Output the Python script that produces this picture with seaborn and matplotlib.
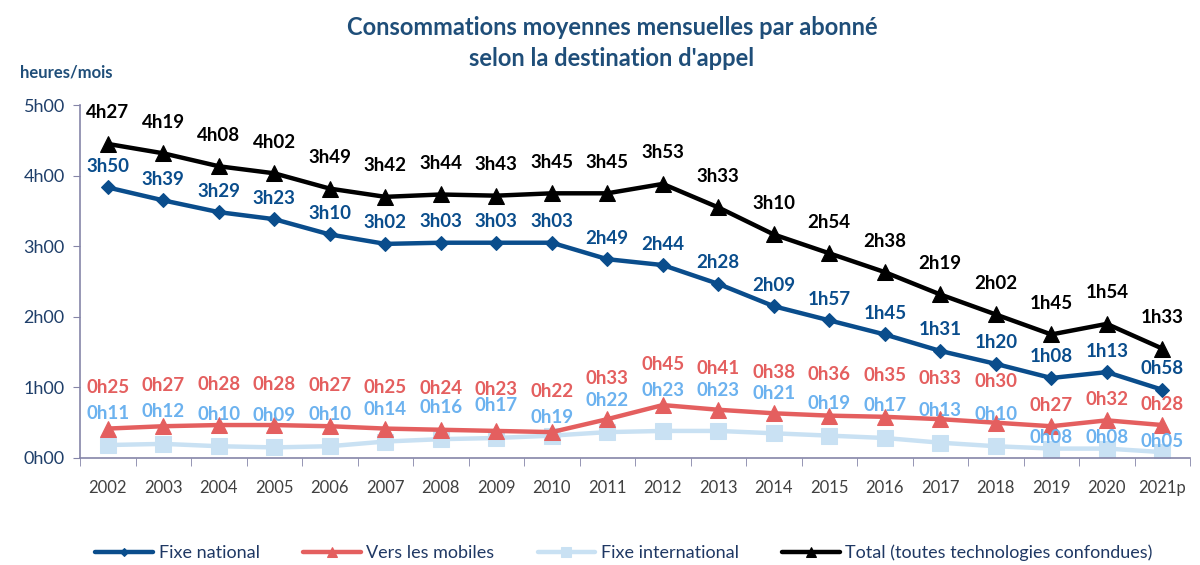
import matplotlib
matplotlib.use("Agg")
import matplotlib.pyplot as plt
import seaborn as sns
import pandas as pd

# data in minutes per month
years = ['2002', '2003', '2004', '2005', '2006', '2007', '2008', '2009', '2010', '2011',
         '2012', '2013', '2014', '2015', '2016', '2017', '2018', '2019', '2020', '2021p']
fixe_national = [230, 219, 209, 203, 190, 182, 183, 183, 183, 169,
                 164, 148, 129, 117, 105, 91, 80, 68, 73, 58]
vers_mobiles = [25, 27, 28, 28, 27, 25, 24, 23, 22, 33,
                45, 41, 38, 36, 35, 33, 30, 27, 32, 28]
fixe_international = [11, 12, 10, 9, 10, 14, 16, 17, 19, 22,
                      23, 23, 21, 19, 17, 13, 10, 8, 8, 5]
total = [267, 259, 248, 242, 229, 222, 224, 223, 225, 225,
         233, 213, 190, 174, 158, 139, 122, 105, 114, 93]
y_ticks = [0, 60, 120, 180, 240, 300]


def fmt(m):
    return '%dh%02d' % (m // 60, m % 60)


sns.set_style('white')
plt.rcParams['font.family'] = ['Lato', 'DejaVu Sans']

fig, ax = plt.subplots(figsize=(12, 5.65), dpi=100)
fig.subplots_adjust(left=0.0667, right=0.9917, top=0.814, bottom=0.1894)

xs = list(range(len(years)))
series = [
    # name, values, line colour, marker, marker size, label colour, label offset (px)
    ('Fixe international', fixe_international, '#c9e1f3', 's', 11, '#6cb2ef', 32),
    ('Vers les mobiles', vers_mobiles, '#e45f5f', '^', 11, '#e45f5f', 41),
    ('Fixe national', fixe_national, '#0a4d8c', 'D', 7, '#0a4d8c', 21),
    ('Total (toutes technologies confondues)', total, '#000000', '^', 11, '#000000', 31),
]

for name, vals, col, mk, ms, lcol, dy in series:
    sns.lineplot(x=xs, y=vals, ax=ax, color=col, marker=mk, markersize=ms,
                 markeredgecolor=col, linewidth=3.2, label=name)
    for i, v in enumerate(vals):
        off = dy
        if i >= 17 and name == 'Vers les mobiles':
            off = 21
        if name == 'Fixe international':
            if i >= 17:
                off = 11
            elif i == 8:
                off = 18
            elif i in (10, 11, 12):
                off = 40
        ax.annotate(fmt(v), (i, v), xytext=(0, off), textcoords='offset pixels',
                    ha='center', va='center', fontsize=13.5, fontweight='bold', color=lcol)

ax.set_xlim(-0.5, len(years) - 0.5)
ax.set_ylim(0, 300)
ax.set_yticks(y_ticks)
ax.set_yticklabels([fmt(t) for t in y_ticks], fontsize=13, color='#1f3f6a')
ax.set_xticks(xs)
ax.set_xticklabels(years, fontsize=12, color='#404040')
ax.set_xticks([i + 0.5 for i in range(-1, len(years))], minor=True)
ax.tick_params(axis='x', which='major', length=0, pad=16)
ax.tick_params(axis='x', which='minor', length=6, color='#8585a8', direction='out', bottom=True)
ax.tick_params(axis='y', length=5, color='#8585a8', direction='out', left=True, pad=6)
for s in ['top', 'right']:
    ax.spines[s].set_visible(False)
for s in ['left', 'bottom']:
    ax.spines[s].set_color('#8585a8')
    ax.spines[s].set_linewidth(1.2)
ax.set_xlabel('')
ax.set_ylabel('')

fig.text(0.51, 0.952, 'Consommations moyennes mensuelles par abonné',
         ha='center', va='center', fontsize=17, fontweight='bold', color='#1f4e79')
fig.text(0.51, 0.897, "selon la destination d'appel",
         ha='center', va='center', fontsize=17, fontweight='bold', color='#1f4e79')
fig.text(0.017, 0.871, 'heures/mois', ha='left', va='center',
         fontsize=12, fontweight='bold', color='#1f4e79')

handles, labels = ax.get_legend_handles_labels()
order = [2, 1, 0, 3]
leg = ax.legend([handles[i] for i in order], [labels[i] for i in order],
                loc='center', bbox_to_anchor=(0.52, 0.021), bbox_transform=fig.transFigure,
                ncol=4, frameon=False, fontsize=13, handlelength=3.2, columnspacing=2.4,
                handletextpad=0.3, markerscale=0.6)
for t in leg.get_texts():
    t.set_color('#1f3864')

fig.savefig('out.png', dpi=100)
